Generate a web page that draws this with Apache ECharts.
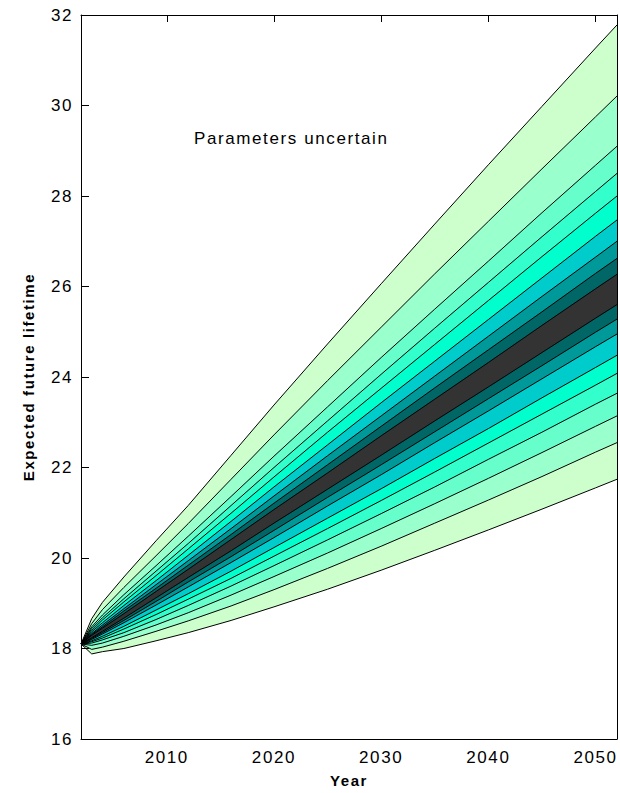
<!DOCTYPE html>
<html><head><meta charset="utf-8">
<script src="https://cdn.jsdelivr.net/npm/echarts@6/dist/echarts.min.js"></script>
<style>html,body{margin:0;padding:0;background:#fff}#c{width:620px;height:793px}
#c svg text{letter-spacing:1.6px}</style>
</head><body><div id="c"></div>
<script>
const years = [2002, 2003, 2004, 2006, 2009, 2012, 2016, 2020, 2025, 2030, 2035, 2040, 2045, 2050, 2052];
const xTicks = [2010, 2020, 2030, 2040, 2050];
// fan boundaries, top (outermost upper) to bottom (outermost lower)
const u1 = [18.10, 18.66, 19.02, 19.58, 20.38, 21.16, 22.27, 23.38, 24.73, 26.06, 27.38, 28.69, 29.98, 31.27, 31.78];
const u2 = [18.10, 18.55, 18.86, 19.35, 20.05, 20.76, 21.74, 22.72, 23.92, 25.10, 26.28, 27.44, 28.60, 29.75, 30.21];
const u3 = [18.10, 18.48, 18.74, 19.19, 19.83, 20.48, 21.36, 22.25, 23.34, 24.43, 25.50, 26.56, 27.63, 28.68, 29.10];
const u4 = [18.10, 18.44, 18.68, 19.10, 19.71, 20.32, 21.16, 22.00, 23.03, 24.06, 25.08, 26.09, 27.10, 28.10, 28.50];
const u5 = [18.10, 18.40, 18.63, 19.03, 19.61, 20.20, 20.99, 21.79, 22.78, 23.75, 24.72, 25.69, 26.66, 27.62, 28.00];
const u6 = [18.10, 18.37, 18.57, 18.95, 19.50, 20.06, 20.81, 21.57, 22.50, 23.43, 24.35, 25.27, 26.19, 27.11, 27.47];
const u7 = [18.10, 18.33, 18.52, 18.88, 19.41, 19.94, 20.65, 21.37, 22.26, 23.14, 24.02, 24.90, 25.78, 26.65, 27.00];
const u8 = [18.10, 18.31, 18.48, 18.83, 19.33, 19.84, 20.52, 21.21, 22.06, 22.91, 23.76, 24.60, 25.44, 26.29, 26.62];
const u9 = [18.10, 18.29, 18.45, 18.77, 19.26, 19.75, 20.41, 21.07, 21.88, 22.70, 23.51, 24.32, 25.14, 25.95, 26.27];
const l1 = [18.10, 18.24, 18.38, 18.67, 19.12, 19.57, 20.16, 20.77, 21.52, 22.27, 23.03, 23.78, 24.54, 25.30, 25.60];
const l2 = [18.10, 18.22, 18.35, 18.62, 19.04, 19.47, 20.03, 20.61, 21.34, 22.06, 22.79, 23.52, 24.25, 24.99, 25.28];
const l3 = [18.10, 18.20, 18.32, 18.57, 18.96, 19.36, 19.90, 20.45, 21.15, 21.84, 22.55, 23.25, 23.96, 24.67, 24.95];
const l4 = [18.10, 18.17, 18.27, 18.49, 18.85, 19.21, 19.71, 20.23, 20.88, 21.53, 22.20, 22.86, 23.54, 24.21, 24.48];
const l5 = [18.10, 18.15, 18.23, 18.43, 18.75, 19.09, 19.55, 20.04, 20.65, 21.27, 21.90, 22.54, 23.18, 23.82, 24.08];
const l6 = [18.10, 18.12, 18.19, 18.35, 18.64, 18.95, 19.38, 19.83, 20.40, 20.98, 21.57, 22.18, 22.78, 23.40, 23.64];
const l7 = [18.10, 18.07, 18.12, 18.27, 18.52, 18.79, 19.18, 19.59, 20.11, 20.65, 21.20, 21.76, 22.33, 22.91, 23.14];
const l8 = [18.10, 17.98, 18.03, 18.16, 18.38, 18.61, 18.94, 19.30, 19.77, 20.26, 20.77, 21.28, 21.80, 22.34, 22.55];
const l9 = [18.10, 17.88, 17.93, 18.00, 18.17, 18.35, 18.62, 18.92, 19.31, 19.73, 20.17, 20.62, 21.08, 21.55, 21.74];

const boundaries = [u1, u2, u3, u4, u5, u6, u7, u8, u9, l1, l2, l3, l4, l5, l6, l7, l8, l9];
// colour of the band lying directly below each boundary
const bandColors = ['#ccffcc', '#99ffcc', '#66ffcc', '#33ffcc', '#00ffcc', '#00cccc', '#009999', '#006666', '#333333',
                    '#006666', '#009999', '#00cccc', '#00ffcc', '#33ffcc', '#66ffcc', '#99ffcc', '#ccffcc', '#ffffff'];

const FONT = 'Liberation Sans, Arial, sans-serif';
const chart = echarts.init(document.getElementById('c'), null, {renderer: 'svg'});

const series = boundaries.map((b, i) => ({
  type: 'line',
  data: years.map((y, k) => [y, b[k]]),
  symbol: 'none',
  smooth: false,
  lineStyle: {color: '#000', width: 1},
  areaStyle: {color: bandColors[i], opacity: 1, origin: 'start'},
  silent: true,
  animation: false,
  z: 2
}));

chart.setOption({
  animation: false,
  backgroundColor: '#fff',
  grid: {left: 81, right: 3, top: 15, bottom: 47},
  title: {
    text: 'Parameters uncertain',
    left: 189, top: 125,
    textStyle: {fontFamily: FONT, fontSize: 17, fontWeight: 'normal', color: '#000'}
  },
  xAxis: [
    {
      type: 'value', min: 2002, max: 2052, position: 'bottom', z: 10,
      axisLine: {show: true, lineStyle: {color: '#000', width: 1}},
      axisTick: {show: false},
      splitLine: {show: false},
      axisLabel: {customValues: xTicks, formatter: v => String(v), color: '#000', fontFamily: FONT, fontSize: 17, margin: 10},
      name: 'Year', nameLocation: 'middle', nameGap: 34,
      nameTextStyle: {fontFamily: FONT, fontSize: 15, fontWeight: 'bold', color: '#000'}
    },
    {
      type: 'value', min: 2002, max: 2052, position: 'top', z: 10,
      axisLine: {show: true, lineStyle: {color: '#000', width: 1}},
      axisTick: {show: true, inside: true, length: 7, customValues: xTicks, lineStyle: {color: '#000'}},
      axisLabel: {show: false},
      splitLine: {show: false}
    }
  ],
  yAxis: [
    {
      type: 'value', min: 16, max: 32, interval: 2, position: 'left', z: 10,
      axisLine: {show: true, lineStyle: {color: '#000', width: 1}},
      axisTick: {show: true, inside: true, length: 8, lineStyle: {color: '#000'}},
      splitLine: {show: false},
      axisLabel: {color: '#000', fontFamily: FONT, fontSize: 17, margin: 8},
      name: 'Expected future lifetime', nameLocation: 'middle', nameGap: 45, nameRotate: 90,
      nameTextStyle: {fontFamily: FONT, fontSize: 15, fontWeight: 'bold', color: '#000'}
    },
    {
      type: 'value', min: 16, max: 32, interval: 2, position: 'right', z: 10,
      axisLine: {show: true, lineStyle: {color: '#000', width: 1}},
      axisTick: {show: false},
      axisLabel: {show: false},
      splitLine: {show: false}
    }
  ],
  series: series
});
</script></body></html>
